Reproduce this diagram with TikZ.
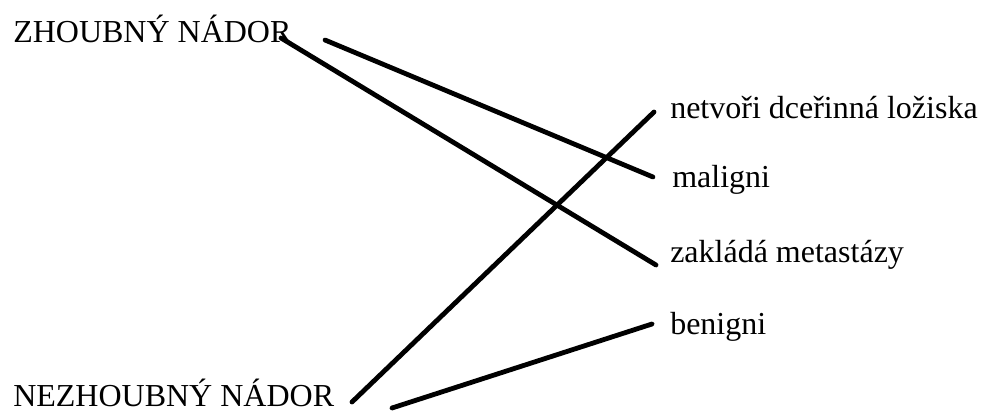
\documentclass[tikz,border=0pt]{standalone}
\usepackage{fontspec}
\setmainfont{Liberation Serif}
\usepackage{tikz}

\tikzset{
    lbl/.style={inner sep=0pt, anchor=base west, font=\fontsize{24}{28}\selectfont},
    conn/.style={line width=3.6pt, line cap=round, black}
}

\begin{document}
\begin{tikzpicture}[x=0.75pt,y=-0.75pt]
    \useasboundingbox (0,0) rectangle (986,412);

    % Left labels
    \node[lbl] (zhoubny) at (13,42) {ZHOUBNÝ NÁDOR};
    \node[lbl] (nezhoubny) at (13,406) {NEZHOUBNÝ NÁDOR};

    % Right labels
    \node[lbl] (netvori) at (670,118) {netvoři dceřinná ložiska};
    \node[lbl] (maligni) at (672,187) {maligni};
    \node[lbl] (zaklada) at (670,262) {zakládá metastázy};
    \node[lbl] (benigni) at (670,334) {benigni};

    % Line ends
    \coordinate (zhA) at (281,38);
    \coordinate (zhB) at (325,40);
    \coordinate (nezhA) at (352,402);
    \coordinate (nezhB) at (392,408);
    \coordinate (netvoriL) at (654,112);
    \coordinate (maligniL) at (653,177);
    \coordinate (zakladaL) at (656,265);
    \coordinate (benigniL) at (652,324);

    % Connectors
    \draw[conn] (zhA) -- (zakladaL);
    \draw[conn] (zhB) -- (maligniL);
    \draw[conn] (nezhA) -- (netvoriL);
    \draw[conn] (nezhB) -- (benigniL);
\end{tikzpicture}
\end{document}
